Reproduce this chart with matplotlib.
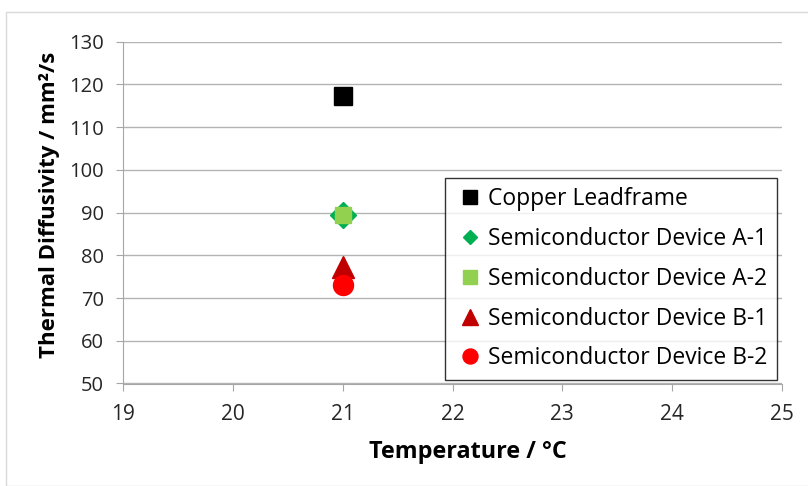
import matplotlib.pyplot as plt
from matplotlib.patches import Rectangle

labels = ["Copper Leadframe", "Semiconductor Device A-1", "Semiconductor Device A-2",
          "Semiconductor Device B-1", "Semiconductor Device B-2"]
temps = [21, 21, 21, 21, 21]
diffusivity = [117.3, 89.5, 89.5, 77.2, 73.1]
markers = ["s", "D", "s", "^", "o"]
colors = ["#000000", "#00b050", "#92d050", "#c00000", "#ff0000"]
sizes = [13, 13.5, 11, 16.5, 14.4]
leg_sizes = [10.5, 7.6, 10.5, 11, 10.8]

plt.rcParams['font.family'] = ['Open Sans', 'DejaVu Sans']

fig = plt.figure(figsize=(8.08, 4.86), dpi=100)
fig.patches.append(Rectangle((6 / 808, 0), 1, 1 - 12 / 486, transform=fig.transFigure,
                             fill=False, edgecolor="#d9d9d9", linewidth=1))
ax = fig.add_axes([123.3 / 808, 1 - 383.5 / 486, 658.4 / 808, 341.8 / 486])

for t, d, m, c, s, lab in zip(temps, diffusivity, markers, colors, sizes, labels):
    ax.plot(t, d, marker=m, color=c, markersize=s, linestyle="none", label=lab)

ax.set_xlim(19, 25)
ax.set_ylim(50, 130)
ax.set_xticks(range(19, 26))
ax.set_yticks(range(50, 131, 10))
ax.grid(axis="y", color="#b3b3b3", linewidth=1)
ax.set_axisbelow(True)
for side in ["top", "right"]:
    ax.spines[side].set_visible(False)
for side in ["left", "bottom"]:
    ax.spines[side].set_color("#a6a6a6")
ax.tick_params(colors="#a6a6a6", labelcolor="#262626", labelsize=14.5, length=5)
ax.tick_params(axis="x", pad=10, labelsize=15)
ax.tick_params(axis="y", pad=9)
ax.set_xlabel("Temperature / °C", fontsize=16.8, fontweight="bold")
ax.set_ylabel("Thermal Diffusivity / mm²/s", fontsize=16, fontweight="bold")
ax.xaxis.set_label_coords(0.5235, -56 / 341.8)
ax.yaxis.set_label_coords(-63 / 658.4, 0.522)

leg = ax.legend(loc="lower right", bbox_to_anchor=(777 / 808, 1 - 380 / 486),
                bbox_transform=fig.transFigure, borderaxespad=0, fontsize=16.5,
                frameon=True, fancybox=False, edgecolor="#000000", handletextpad=0.15,
                handlelength=1.3, borderpad=0.42, labelspacing=0.69)
leg.get_frame().set_linewidth(1)
for h, s in zip(leg.legend_handles, leg_sizes):
    h.set_markersize(s)

fig.savefig("out.png", dpi=100)
